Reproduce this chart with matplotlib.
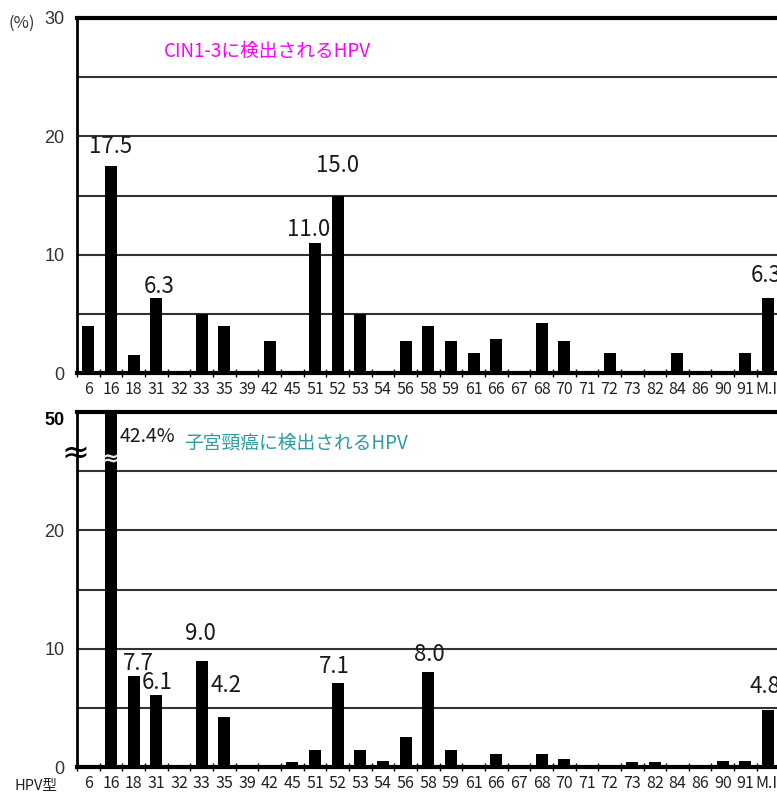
import matplotlib.pyplot as plt
import numpy as np

plt.rcParams['font.family'] = ['Noto Sans CJK JP', 'DejaVu Sans']

# HPV型
hpv_types = ['6', '16', '18', '31', '32', '33', '35', '39', '42', '45', '51', '52', '53', '54',
             '56', '58', '59', '61', '66', '67', '68', '70', '71', '72', '73', '82', '84', '86',
             '90', '91', 'M.I.']

# CIN1-3 (%)
cin_values = [4.0, 17.5, 1.5, 6.3, 0, 5.0, 4.0, 0, 2.7, 0, 11.0, 15.0, 5.0, 0,
              2.7, 4.0, 2.7, 1.7, 2.9, 0, 4.2, 2.7, 0, 1.7, 0, 0, 1.7, 0,
              0, 1.7, 6.3]

# 子宮頸癌 (%)
cancer_values = [0, 42.4, 7.7, 6.1, 0, 9.0, 4.2, 0, 0, 0.4, 1.4, 7.1, 1.4, 0.5,
                 2.5, 8.0, 1.4, 0, 1.1, 0, 1.1, 0.7, 0, 0, 0.4, 0.4, 0, 0,
                 0.5, 0.5, 4.8]

# 数値ラベルを付けるバー
cin_labeled = ['16', '31', '51', '52', 'M.I.']
cancer_labeled = ['18', '31', '33', '35', '52', '58', 'M.I.']

# ラベル位置の微調整 (pixel)
cin_offsets = {'16': (0, 8), '31': (3, 0), '51': (-6, 2), '52': (0, 18), 'M.I.': (-2, 11)}
cancer_offsets = {'18': (5, 1), '31': (1, 1), '33': (-1, 15), '35': (2, 20),
                  '52': (-3, 5), '58': (1, 6), 'M.I.': (-3, 12)}

W, H = 777, 796
fig = plt.figure(figsize=(W / 100, H / 100), dpi=100)

x = np.arange(len(hpv_types))
step = 22.77
xlim = (-0.35, 30.6)
ax_w = (xlim[1] - xlim[0]) * step / W
ax_h = 355 / H
ax_top = fig.add_axes([77 / W, (H - 373) / H, ax_w, ax_h])
ax_bot = fig.add_axes([77 / W, (H - 767) / H, ax_w, ax_h])


def style_axes(ax):
    ax.set_xlim(*xlim)
    ax.set_ylim(0, 30)
    for y in [5, 10, 15, 20, 25]:
        ax.axhline(y, color='#333333', lw=1.5, zorder=1)
    ax.spines['top'].set_linewidth(3)
    ax.spines['bottom'].set_linewidth(3)
    ax.spines['left'].set_linewidth(2)
    ax.spines['right'].set_visible(False)
    ax.set_xticks(x)
    ax.set_xticklabels(hpv_types, fontsize=11.5, color='#222222')
    ax.set_xticks(np.arange(-0.5, 31, 1), minor=True)
    ax.tick_params(axis='x', which='major', length=0, pad=6)
    ax.tick_params(axis='x', which='minor', length=6, width=1, direction='inout')
    ax.tick_params(axis='y', length=0, pad=9)


def add_labels(ax, values, labeled, offsets):
    for name in labeled:
        i = hpv_types.index(name)
        dx, dy = offsets[name]
        ax.annotate(f'{values[i]:.1f}', (i, values[i]), xytext=(dx, dy),
                    textcoords='offset pixels', ha='center', va='bottom',
                    fontsize=16, color='#1a1a1a', zorder=4)


# 上段: CIN1-3
style_axes(ax_top)
ax_top.bar(x, cin_values, width=0.53, color='black', zorder=3)
ax_top.set_yticks([0, 10, 20, 30])
ax_top.set_yticklabels(['0', '10', '20', '30'], fontsize=13, color='#333333',
                       family='Liberation Sans')
add_labels(ax_top, cin_values, cin_labeled, cin_offsets)
ax_top.text(0.27, 0.905, 'CIN1-3に検出されるHPV', transform=ax_top.transAxes,
            color='#ff00ff', fontsize=13.5, ha='center', va='center')
fig.text(22 / W, 1 - 23 / H, '(%)', fontsize=12, color='#333333',
         ha='center', va='center')

# 下段: 子宮頸癌
style_axes(ax_bot)
ax_bot.bar(x, cancer_values, width=0.53, color='black', zorder=3)
ax_bot.set_yticks([0, 10, 20, 30])
ax_bot.set_yticklabels(['0', '10', '20', '50'], fontsize=13, color='#333333',
                       family='Liberation Sans')
top_lbl = ax_bot.get_yticklabels()[-1]
top_lbl.set_fontweight('bold')
top_lbl.set_color('black')
top_lbl.set_va('top')
add_labels(ax_bot, cancer_values, cancer_labeled, cancer_offsets)

i16 = hpv_types.index('16')
ax_bot.annotate(f'{cancer_values[i16]:.1f}%', (i16, 30), xytext=(9, -25),
                textcoords='offset pixels', ha='left', va='center',
                fontsize=14, color='#1a1a1a', zorder=4)
# 軸の省略記号
ax_bot.text(i16, 26.0, '≈', ha='center', va='center', fontsize=15, color='#e8e8e8',
            fontweight='bold', family='DejaVu Sans', zorder=5)
ax_bot.text(-0.002, 26.5, '≈', transform=ax_bot.get_yaxis_transform(), ha='center',
            va='center', fontsize=24, color='black', family='DejaVu Sans',
            zorder=5, clip_on=False)
ax_bot.text(0.152, 0.913, '子宮頸癌に検出されるHPV', transform=ax_bot.transAxes,
            color='#2a9d9f', fontsize=13.5, ha='left', va='center')
fig.text(36 / W, 1 - 786 / H, 'HPV型', fontsize=10.5, color='#222222',
         ha='center', va='center')

fig.savefig('out.png', dpi=100)
